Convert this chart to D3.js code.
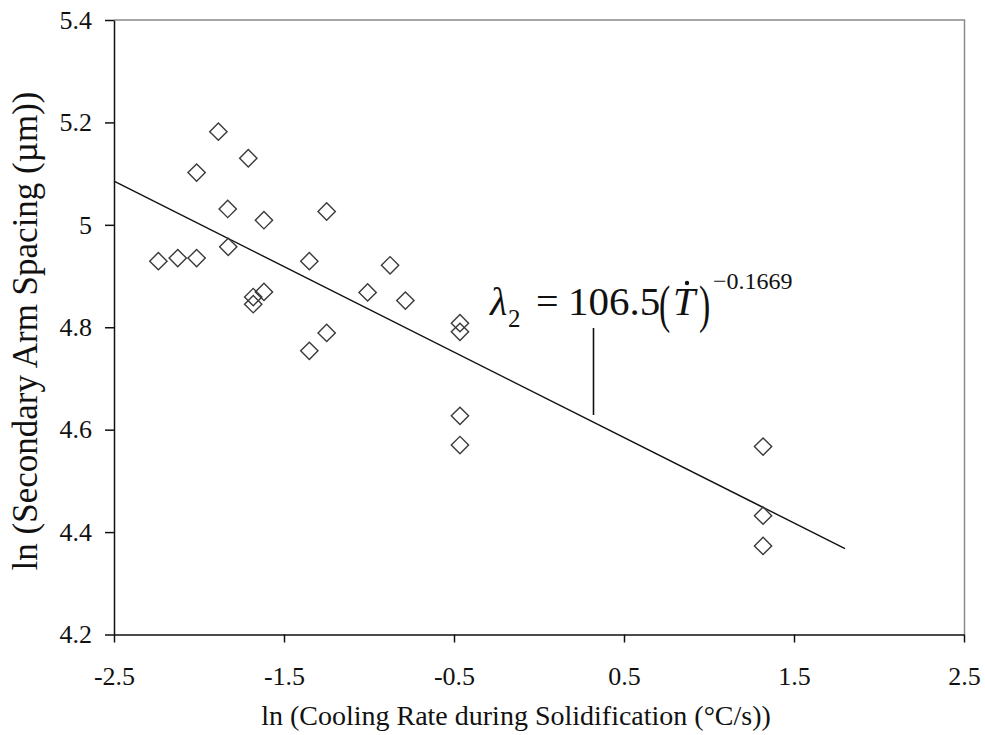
<!DOCTYPE html>
<html>
<head>
<meta charset="utf-8">
<script src="https://cdn.jsdelivr.net/npm/d3@7"></script>
<style>
  html, body { margin: 0; padding: 0; background: #fff; }
  svg { display: block; }
</style>
</head>
<body>
<svg id="chart" width="985" height="735"></svg>
<script>
// ---- data ----
const xValues = [-2.239, -2.125, -2.014, -2.014, -1.886, -1.831, -1.828, -1.710, -1.681, -1.681,
                 -1.618, -1.618, -1.351, -1.351, -1.249, -1.249, -1.008, -0.876, -0.786,
                 -0.465, -0.465, -0.465, -0.465, 1.318, 1.318, 1.318];
const yValues = [4.929, 4.935, 4.935, 5.102, 5.182, 5.031, 4.957, 5.130, 4.859, 4.845,
                 5.009, 4.869, 4.929, 4.754, 5.026, 4.789, 4.868, 4.921, 4.852,
                 4.808, 4.791, 4.627, 4.570, 4.567, 4.432, 4.373];
const xTicks = [-2.5, -1.5, -0.5, 0.5, 1.5, 2.5];
const yTicks = [4.2, 4.4, 4.6, 4.8, 5.0, 5.2, 5.4];
const fitCoef = 106.5;
const fitExp = -0.1669;
const fitXRange = [-2.5, 1.8];
const xTitle = "ln (Cooling Rate during Solidification (°C/s))";
const yTitle = "ln (Secondary Arm Spacing (µm))";

// ---- layout ----
const svg = d3.select("#chart");
const pLeft = 114, pRight = 964, pTop = 20, pBottom = 634.5;
const FONT = "'Liberation Serif', 'Times New Roman', serif";

const x = d3.scaleLinear().domain([-2.5, 2.5]).range([pLeft, pRight]);
const y = d3.scaleLinear().domain([4.2, 5.4]).range([pBottom, pTop]);

// frame (grey top/right)
svg.append("path")
  .attr("d", `M${pLeft},${pTop}H${pRight + 0.5}V${pBottom}`)
  .attr("fill", "none").attr("stroke", "#8a8a8a").attr("stroke-width", 1.5);

// axes
const xAxis = d3.axisBottom(x).tickValues(xTicks).tickSize(8).tickSizeOuter(0)
  .tickPadding(24).tickFormat(d => d.toFixed(1));
const yAxis = d3.axisLeft(y).tickValues(yTicks).tickSize(9).tickSizeOuter(0)
  .tickPadding(13).tickFormat(d => String(+d.toFixed(1)));

const gx = svg.append("g").attr("transform", `translate(0,${pBottom})`).call(xAxis);
const gy = svg.append("g").attr("transform", `translate(${pLeft},0)`).call(yAxis);
[gx, gy].forEach(g => {
  g.select(".domain").attr("stroke", "#111").attr("stroke-width", 1.5);
  g.selectAll(".tick line").attr("stroke", "#111").attr("stroke-width", 1.5);
  g.selectAll(".tick text").attr("fill", "#111")
    .style("font-family", FONT).style("font-size", "26px");
});

// fit line: ln(lambda) = ln(a) + b * ln(Tdot)
const fitPts = fitXRange.map(v => [v, Math.log(fitCoef) + fitExp * v]);
svg.append("path")
  .attr("d", d3.line().x(d => x(d[0])).y(d => y(d[1]))(fitPts))
  .attr("fill", "none").attr("stroke", "#111").attr("stroke-width", 1.4);

// data points (open diamonds)
const diamond = d3.symbol().type(d3.symbolSquare).size(150)();
svg.append("g").selectAll("path")
  .data(xValues.map((v, i) => [v, yValues[i]]))
  .join("path")
  .attr("d", diamond)
  .attr("transform", d => `translate(${x(d[0])},${y(d[1])}) rotate(45)`)
  .attr("fill", "none").attr("stroke", "#3a3a3a").attr("stroke-width", 1.4);

// axis titles
svg.append("text")
  .attr("x", 516).attr("y", 725)
  .attr("text-anchor", "middle")
  .style("font-family", FONT).style("font-size", "28px").attr("fill", "#111")
  .text(xTitle);

svg.append("text")
  .attr("transform", "translate(37,331) rotate(-90)")
  .attr("text-anchor", "middle")
  .style("font-family", FONT).style("font-size", "35px").attr("fill", "#111")
  .text(yTitle);

// equation annotation (separate pieces)
const eqG = svg.append("g").style("font-family", FONT).attr("fill", "#111");
function piece(txt, tx, ty, size, opts = {}) {
  const t = eqG.append("text")
    .attr("transform", `translate(${tx},${ty}) scale(${opts.sx || 1},${opts.sy || 1})`)
    .style("font-size", size + "px")
    .text(txt);
  if (opts.italic) t.style("font-style", "italic");
  return t;
}
piece("λ", 490, 315, 40, { italic: true });
piece("2", 508, 327, 25);
piece("=", 536, 315, 40);
piece(String(fitCoef), 568, 315, 41);
piece("(", 659, 322, 52, { sx: 0.65 });
piece("T", 673, 315, 40, { italic: true });
piece(")", 699, 322, 52, { sx: 0.65 });
piece("\u2212" + Math.abs(fitExp).toFixed(4), 713, 289, 24);
// dot over T
svg.append("circle").attr("cx", 687).attr("cy", 283).attr("r", 2.2).attr("fill", "#111");

// leader line
svg.append("line")
  .attr("x1", 593.5).attr("x2", 593.5).attr("y1", 328).attr("y2", 415)
  .attr("stroke", "#111").attr("stroke-width", 1.6);
</script>
</body>
</html>
